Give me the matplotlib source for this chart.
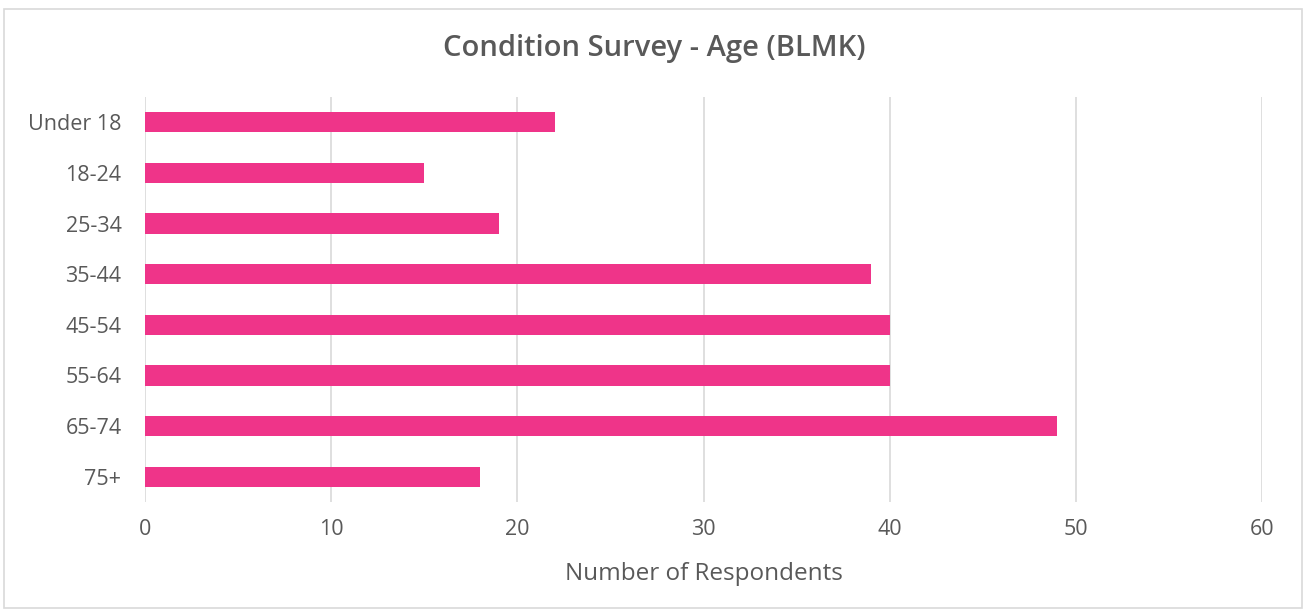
import matplotlib.pyplot as plt
from matplotlib.patches import Rectangle

# data
ages = ['Under 18', '18-24', '25-34', '35-44', '45-54', '55-64', '65-74', '75+']
respondents = [22, 15, 19, 39, 40, 40, 49, 18]
xticks = [0, 10, 20, 30, 40, 50, 60]

bar_col = '#EF3489'
txt_col = '#595959'
grid_col = '#D9D9D9'

plt.rcParams['font.family'] = ['Open Sans', 'DejaVu Sans']

fig = plt.figure(figsize=(13.04, 6.11), dpi=100)
ax = fig.add_axes([0.1112, 0.1784, 0.8566, 0.6628])

ypos = list(range(len(ages)))
ax.barh(ypos, respondents, height=0.4, color=bar_col, zorder=3)
ax.set_yticks(ypos)
ax.set_yticklabels(ages)
ax.set_ylim(len(ages) - 0.5, -0.5)

ax.set_xlim(0, 60)
ax.set_xticks(xticks)
ax.xaxis.grid(True, color=grid_col, linewidth=1.2, zorder=0)
for s in ax.spines.values():
    s.set_visible(False)
ax.tick_params(axis='both', length=0, colors=txt_col, labelsize=15.5)
ax.tick_params(axis='x', pad=12)
ax.tick_params(axis='y', pad=17)

ax.set_xlabel('Number of Respondents', color=txt_col, fontsize=17.5, labelpad=16)
fig.text(0.502, 0.921, 'Condition Survey - Age (BLMK)', ha='center', va='center',
         fontsize=21, color=txt_col, fontweight='semibold')

# chart border
fig.patches.append(Rectangle((0.003, 0.005), 0.9954, 0.9804, transform=fig.transFigure,
                             fill=False, edgecolor='#D9D9D9', linewidth=1.2))

fig.savefig('out.png', dpi=100)
